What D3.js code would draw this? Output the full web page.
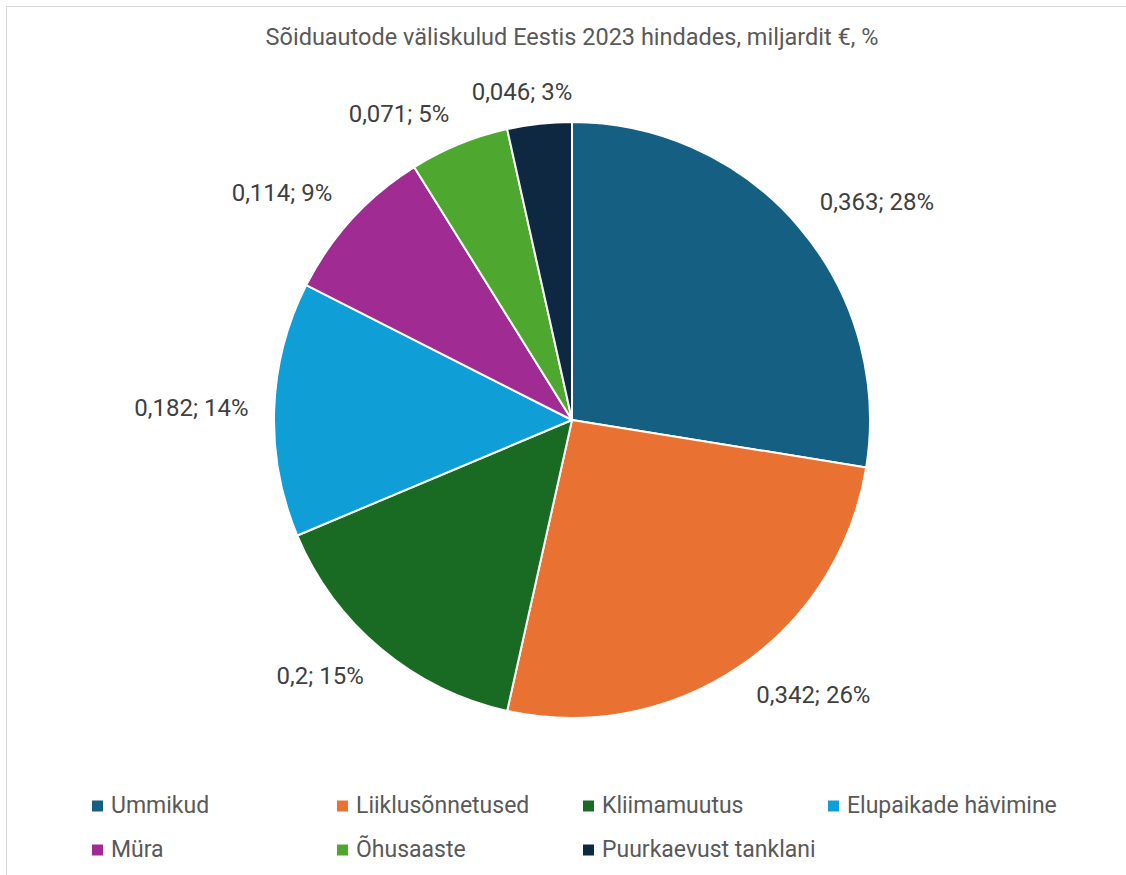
<!DOCTYPE html>
<html>
<head>
<meta charset="utf-8">
<script src="https://cdn.jsdelivr.net/npm/d3@7"></script>
<style>
  html, body { margin: 0; padding: 0; background: #fff; }
  svg { display: block; font-family: Roboto, "Noto Sans", "Liberation Sans", sans-serif; }
</style>
</head>
<body>
<svg id="chart" width="1126" height="875"></svg>
<script>
// ---- data ----
const categories = ["Ummikud", "Liiklusõnnetused", "Kliimamuutus", "Elupaikade hävimine", "Müra", "Õhusaaste", "Puurkaevust tanklani"];
const values = [0.363, 0.342, 0.2, 0.182, 0.114, 0.071, 0.046];
const percentLabels = ["28%", "26%", "15%", "14%", "9%", "5%", "3%"];
const colors = ["#156082", "#E97132", "#196B24", "#0F9ED5", "#A02B93", "#4EA72E", "#0E2841"];
const title = "Sõiduautode väliskulud Eestis 2023 hindades, miljardit €, %";

// ---- layout ----
const W = 1126, H = 875;
const cx = 572, cy = 420, radius = 298;
const svg = d3.select("#chart");

// chart border
svg.append("rect")
  .attr("x", 6.5).attr("y", 6.5)
  .attr("width", W + 10).attr("height", H + 10)
  .attr("fill", "none").attr("stroke", "#d9d9d9").attr("stroke-width", 1);

svg.append("text")
  .attr("x", cx).attr("y", 45)
  .attr("text-anchor", "middle")
  .attr("font-size", 23.5)
  .attr("fill", "#595959")
  .text(title);

const data = categories.map((c, i) => ({ name: c, value: values[i], pct: percentLabels[i], color: colors[i] }));

const pie = d3.pie().value(d => d.value).sort(null);
const arcs = pie(data);
const arc = d3.arc().innerRadius(0).outerRadius(radius);

const g = svg.append("g").attr("transform", `translate(${cx},${cy})`);

g.selectAll("path.slice")
  .data(arcs)
  .enter().append("path")
  .attr("class", "slice")
  .attr("d", arc)
  .attr("fill", d => d.data.color)
  .attr("stroke", "#ffffff")
  .attr("stroke-width", 2)
  .attr("stroke-linejoin", "round");

// labels (outside end)
const fmt = v => String(v).replace(".", ",");
const labelR = radius + 20;
const clamp = (v) => Math.max(-1, Math.min(1, v));
const labels = g.selectAll("text.lbl")
  .data(arcs)
  .enter().append("text")
  .attr("class", "lbl")
  .attr("font-size", 24)
  .attr("fill", "#404040")
  .attr("text-anchor", "middle")
  .attr("dominant-baseline", "central")
  .text(d => `${fmt(d.data.value)}; ${d.data.pct}`);

labels.each(function(d) {
  const a = (d.startAngle + d.endAngle) / 2;
  const dx = Math.sin(a), dy = -Math.cos(a);
  const w = this.getComputedTextLength();
  const h = 24;
  const x = labelR * dx + clamp(dx * 2.5) * w / 2 * 1.1;
  const y = labelR * dy + clamp(dy * 2.5) * h / 2;
  d3.select(this).attr("x", x).attr("y", y);
});

// legend
const colX = [92, 337, 583, 828];
const rowY = [812.5, 856.5];
const leg = svg.append("g");
data.forEach((d, i) => {
  const col = i % 4, row = Math.floor(i / 4);
  const item = leg.append("g").attr("transform", `translate(${colX[col]},${rowY[row]})`);
  item.append("rect").attr("x", 0).attr("y", -12).attr("width", 11).attr("height", 11).attr("fill", d.color);
  item.append("text").attr("x", 19).attr("y", 0)
    .attr("font-size", 23).attr("fill", "#595959")
    .text(d.name);
});
</script>
</body>
</html>
